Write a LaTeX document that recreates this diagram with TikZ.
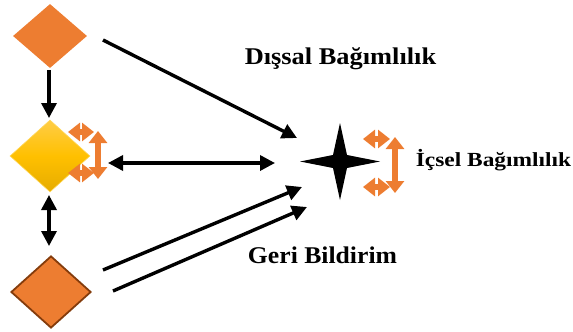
\documentclass[tikz,border=0pt]{standalone}
\usepackage{fontspec}
\usepackage{graphicx}
\setmainfont{Liberation Serif}
\usetikzlibrary{shapes.geometric,arrows.meta}
\definecolor{orng}{HTML}{ED7D31}
\definecolor{brwn}{HTML}{843C0C}
\tikzset{
  blk/.style={line width=3.4pt, draw=black, -{Triangle[length=15pt,width=15pt]}},
  blkd/.style={line width=3.4pt, draw=black, {Triangle[length=15pt,width=15pt]}-{Triangle[length=15pt,width=15pt]}},
  orarr/.style={line width=6pt, draw=orng, {Triangle[length=12pt,width=18pt]}-{Triangle[length=12pt,width=18pt]}},
  dia/.style={shape=diamond, inner sep=0pt},
  lbl/.style={font=\bfseries, anchor=base, inner sep=0pt}
}
\begin{document}
\begin{tikzpicture}[x=1pt,y=-1pt]
\useasboundingbox (0,0) rectangle (573,332);
% diamonds
\node[dia, fill=orng, minimum width=74pt, minimum height=64pt] (top) at (50,36) {};
\node[dia, top color={rgb,255:red,255;green,205;blue,70}, bottom color={rgb,255:red,230;green,172;blue,0}, middle color={rgb,255:red,255;green,192;blue,0}, draw={rgb,255:red,255;green,215;blue,90}, line width=0.6pt, minimum width=80pt, minimum height=72pt] (mid) at (50,156) {};
\node[dia, fill=orng, draw=brwn, line width=1.8pt, minimum width=80pt, minimum height=72pt] (bot) at (51,292) {};
% star
\coordinate (star) at (340,161.5);
\fill[black] (300,161.5) -- (333,155) -- (340,123) -- (347,155) -- (380,161.5) -- (347,168) -- (340,200) -- (333,168) -- cycle;
% arrow end points
\coordinate (a1s) at (49,70);
\coordinate (a1e) at (49,118);
\coordinate (a2s) at (49,195);
\coordinate (a2e) at (49,246);
\coordinate (a3s) at (103,40);
\coordinate (a3e) at (297,138);
\coordinate (a4s) at (108,163);
\coordinate (a4e) at (275,163);
\coordinate (a5s) at (103,270);
\coordinate (a5e) at (302,187);
\coordinate (a6s) at (113,291);
\coordinate (a6e) at (307,207);
\draw[blk] (a1s) -- (a1e);
\draw[blkd] (a2s) -- (a2e);
\draw[blk] (a3s) -- (a3e);
\draw[blkd] (a4s) -- (a4e);
\draw[blk] (a5s) -- (a5e);
\draw[blk] (a6s) -- (a6e);
% orange self arrows near middle diamond
\coordinate (m1) at (68,132); \coordinate (m2) at (94,132);
\coordinate (m3) at (98,131); \coordinate (m4) at (98,179);
\coordinate (m5) at (68,173); \coordinate (m6) at (94,173);
\draw[orarr] (m1) -- (m2);
\draw[orarr] (m3) -- (m4);
\draw[orarr] (m5) -- (m6);
% orange self arrows near star
\coordinate (s1) at (363,139); \coordinate (s2) at (390,139);
\coordinate (s3) at (395,137); \coordinate (s4) at (395,193);
\coordinate (s5) at (363,187); \coordinate (s6) at (390,187);
\draw[orarr] (s1) -- (s2);
\draw[orarr] (s3) -- (s4);
\draw[orarr] (s5) -- (s6);
% labels
\node[lbl] (l1) at (340.5,64) {\fontsize{24}{28}\selectfont\scalebox{1.1}[1]{Dışsal Bağımlılık}};
\node[lbl] (l2) at (493.5,166) {\fontsize{20}{24}\selectfont\scalebox{1.17}[1]{İçsel Bağımlılık}};
\node[lbl] (l3) at (322.5,263) {\fontsize{24}{28}\selectfont\scalebox{1.07}[1]{Geri Bildirim}};
\end{tikzpicture}
\end{document}
